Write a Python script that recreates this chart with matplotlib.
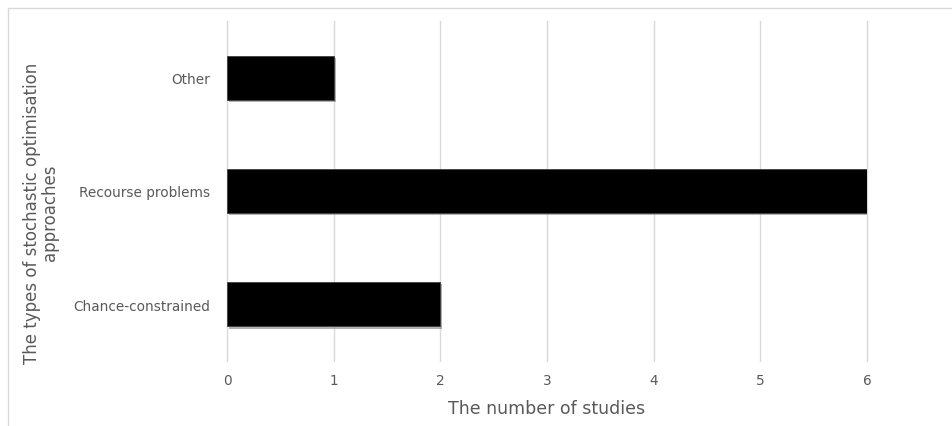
import matplotlib
matplotlib.use("Agg")
import matplotlib.pyplot as plt
import matplotlib.patheffects as pe
from matplotlib.patches import Rectangle

# data
approaches = ["Chance-constrained", "Recourse problems", "Other"]
studies = [2, 6, 1]
x_ticks = [0, 1, 2, 3, 4, 5, 6]

grey = "#595959"
plt.rcParams["font.family"] = ["DejaVu Sans"]

fig = plt.figure(figsize=(9.52, 4.27), dpi=100)
ax = fig.add_axes([227 / 952, 65 / 427, 640 / 952, 340 / 427])

# outer chart frame (only top/left visible in the crop)
fig.patches.append(Rectangle((8 / 952, -0.1), 1.2, (427 - 9) / 427 + 0.1,
                             transform=fig.transFigure, fill=False,
                             edgecolor="#d9d9d9", linewidth=1))

bars = ax.barh(range(len(approaches)), studies, height=0.39,
               color="black", edgecolor="#404040", linewidth=0.6, zorder=3)
for b in bars:
    b.set_path_effects([pe.SimplePatchShadow(offset=(1.5, -1.5),
                                             shadow_rgbFace="#7f7f7f", alpha=0.6),
                        pe.Normal()])

ax.set_xlim(0, 6)
ax.set_ylim(-0.5, 2.5)
ax.set_xticks(x_ticks)
ax.set_yticks(range(len(approaches)))
ax.set_yticklabels(approaches)
# vertical gridlines, unclipped so the one at 6 shows fully
for t in x_ticks:
    ax.axvline(t, color="#d9d9d9", linewidth=1, zorder=0, clip_on=False)
ax.tick_params(length=0, labelsize=9.8, colors=grey)
ax.tick_params(axis="x", pad=9)
ax.tick_params(axis="y", pad=12)
for s in ax.spines.values():
    s.set_visible(False)

ax.set_xlabel("The number of studies", fontsize=12.5, color=grey, labelpad=8)
fig.text(41 / 952, 1 - 213 / 427, "The types of stochastic optimisation\napproaches",
         rotation=90, ha="center", va="center", fontsize=12, color=grey,
         linespacing=1.0)

fig.savefig("out.png", dpi=100)
